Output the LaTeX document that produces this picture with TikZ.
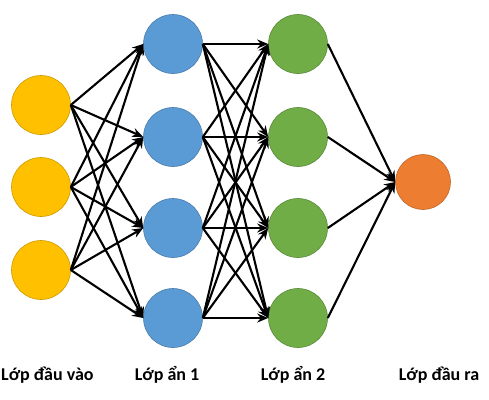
\documentclass[tikz,border=0pt]{standalone}
\usepackage{fontspec}
\setmainfont{Carlito}
\usetikzlibrary{arrows.meta}
\definecolor{vao}{HTML}{FFC000}
\definecolor{anmot}{HTML}{5B9BD5}
\definecolor{anhai}{HTML}{70AD47}
\definecolor{ra}{HTML}{ED7D31}
\tikzset{neuron/.style={circle, minimum size=59pt, inner sep=0pt, fill=#1, draw=#1!80!black, line width=.6pt}}
\begin{document}
\begin{tikzpicture}[x=1pt, y=-1pt, font=\fontsize{18}{21}\selectfont\bfseries, line join=round, >={Stealth[length=11pt,width=9pt]}]
	\useasboundingbox (0,0) rectangle (489,399);
	\def\xv{41} \def\xa{173} \def\xb{298} \def\xr{423}
	%\draw[gray!30] (0,0) grid[step=50] (489,399);
	\foreach \i/\y in {1/105,2/187,3/270} \node[neuron=vao] (v\i) at (\xv,\y) {};
	\foreach \i/\y in {1/44,2/137,3/228,4/318} {
		\node[neuron=anmot] (a\i) at (\xa,\y) {};
		\node[neuron=anhai] (b\i) at (\xb,\y) {};
	}
	\node[neuron=ra, minimum size=55pt] (r) at (\xr,182) {};
	\begin{scope}[line width=2.1pt]
		\foreach \i in {1,2,3} \foreach \j in {1,...,4} \draw[->] (v\i.east) -- (a\j.west);
		\foreach \i in {1,...,4} \foreach \j in {1,...,4} \draw[->] (a\i.east) -- (b\j.west);
		\foreach \i in {1,...,4} \draw[->] (b\i.east) -- (r.west);
	\end{scope}
	\node[anchor=west, inner xsep=1pt] (lv) at (0,375) {Lớp đầu vào};
	\node (la) at (167,375) {Lớp ẩn 1};
	\node (lb) at (293,375) {Lớp ẩn 2};
	\node (lr) at (439,375) {Lớp đầu ra};
\end{tikzpicture}
\end{document}
